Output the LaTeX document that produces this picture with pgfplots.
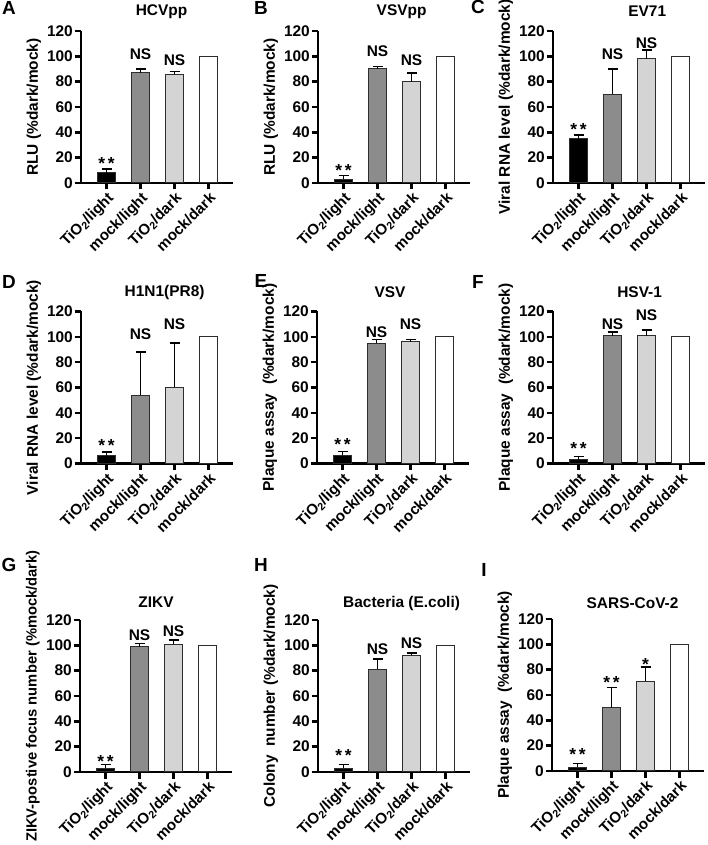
\documentclass[border=0pt]{standalone}
\usepackage{fontspec}
\setmainfont{Liberation Sans}
\usepackage{pgfplots}
\pgfplotsset{compat=1.18}

\definecolor{midgray}{RGB}{140,140,140}
\definecolor{lightgray2}{RGB}{212,212,212}
\definecolor{edge}{RGB}{45,45,45}

\newcommand\fs[1]{\bfseries\fontsize{#1}{#1}\selectfont}

\tikzset{
  sig/.style={font=\fs{15.5}, inner sep=0pt},
  star/.style={font=\fs{17.5}, inner sep=0pt},
  letter/.style={font=\fs{19}, inner sep=0pt},
}

\pgfplotsset{
  panel/.style={
    width=152bp, height=152bp, scale only axis,
    anchor=south west,
    xmin=-0.75, xmax=3.72, ymin=0, ymax=120,
    axis lines=left,
    axis line style={-, line width=2.8bp},
    ytick={0,20,...,120}, xtick={0,1,2,3},
    xticklabels={TiO\textsubscript{2}/light, mock/light, TiO\textsubscript{2}/dark, mock/dark},
    tick align=outside, major tick length=6.5bp,
    tick style={line width=2.6bp, black},
    /pgf/number format/assume math mode=true,
    y tick label style={font=\fs{15.5}, inner sep=1.5bp},
    x tick label style={font=\fs{15.2}, rotate=45, anchor=north east, inner sep=1bp},
    ylabel style={at={(axis description cs:-0.31,0.5)}, anchor=center, font=\fs{15.5}},
    title style={font=\fs{15.5}, anchor=center},
    ybar, bar width=18bp, bar shift=0pt,
    every axis plot/.append style={draw=edge, line width=1bp},
    error bars/y dir=plus, error bars/y explicit,
    error bars/error bar style={line width=1.6bp, black},
    error bars/error mark options={rotate=90, mark size=5bp, line width=1.6bp, black},
    clip=false,
  },
  b1/.style={fill=black},
  b2/.style={fill=midgray},
  b3/.style={fill=lightgray2},
  b4/.style={fill=white},
}

\begin{document}
\begin{tikzpicture}
\path[use as bounding box] (0,0) rectangle (708bp,845bp);

% ---- row 1 ----
\begin{axis}[panel, at={(81bp,662bp)}, ylabel={RLU (\%dark/mock)},
  title={HCVpp}, title style={at={(axis description cs:0.53,1.09)}}]
  \addplot[b1] coordinates {(0,8) +- (0,3)};
  \addplot[b2] coordinates {(1,87) +- (0,3)};
  \addplot[b3] coordinates {(2,86) +- (0,2)};
  \addplot[b4] coordinates {(3,100)};
  \node[star] at (axis cs:0,15.5) {*\,*};
  \node[sig] at (axis cs:1,102) {NS};
  \node[sig] at (axis cs:2,97) {NS};
\end{axis}

\begin{axis}[panel, at={(318bp,662bp)}, ylabel={RLU (\%dark/mock)},
  title={VSVpp}, title style={at={(axis description cs:0.55,1.09)}}]
  \addplot[b1] coordinates {(0,3) +- (0,3)};
  \addplot[b2] coordinates {(1,90) +- (0,2)};
  \addplot[b3] coordinates {(2,80) +- (0,7)};
  \addplot[b4] coordinates {(3,100)};
  \node[star] at (axis cs:0,9.5) {*\,*};
  \node[sig] at (axis cs:1,104) {NS};
  \node[sig] at (axis cs:2,97) {NS};
\end{axis}

\begin{axis}[panel, at={(553bp,662bp)}, ylabel={Viral RNA level (\%dark/mock)},
  title={EV71}, title style={at={(axis description cs:0.62,1.09)}}]
  \addplot[b1] coordinates {(0,35) +- (0,3)};
  \addplot[b2] coordinates {(1,70) +- (0,20)};
  \addplot[b3] coordinates {(2,98) +- (0,7)};
  \addplot[b4] coordinates {(3,100)};
  \node[star] at (axis cs:0,42) {*\,*};
  \node[sig] at (axis cs:1,102) {NS};
  \node[sig] at (axis cs:2,110) {NS};
\end{axis}

% ---- row 2 ----
\begin{axis}[panel, at={(81bp,381.5bp)}, ylabel={Viral RNA level (\%dark/mock)},
  title={H1N1(PR8)}, title style={at={(axis description cs:0.55,1.085)}}]
  \addplot[b1] coordinates {(0,6) +- (0,3)};
  \addplot[b2] coordinates {(1,54) +- (0,34)};
  \addplot[b3] coordinates {(2,60) +- (0,35)};
  \addplot[b4] coordinates {(3,100)};
  \node[star] at (axis cs:0,14.5) {*\,*};
  \node[sig] at (axis cs:1,102) {NS};
  \node[sig] at (axis cs:2,110) {NS};
\end{axis}

\begin{axis}[panel, at={(317bp,381.5bp)}, ylabel={Plaque assay~~(\%dark/mock)},
  title={VSV}, title style={at={(axis description cs:0.48,1.085)}}]
  \addplot[b1] coordinates {(0,6.5) +- (0,3)};
  \addplot[b2] coordinates {(1,95) +- (0,3)};
  \addplot[b3] coordinates {(2,96) +- (0,2)};
  \addplot[b4] coordinates {(3,100)};
  \node[star] at (axis cs:0,15) {*\,*};
  \node[sig] at (axis cs:1,104) {NS};
  \node[sig] at (axis cs:2,110) {NS};
\end{axis}

\begin{axis}[panel, at={(553bp,381.5bp)}, ylabel={Plaque assay~~(\%dark/mock)},
  title={HSV-1}, title style={at={(axis description cs:0.57,1.085)}}]
  \addplot[b1] coordinates {(0,3) +- (0,2.5)};
  \addplot[b2] coordinates {(1,101) +- (0,3)};
  \addplot[b3] coordinates {(2,101) +- (0,4.5)};
  \addplot[b4] coordinates {(3,100)};
  \node[star] at (axis cs:0,12) {*\,*};
  \node[sig] at (axis cs:1,110) {NS};
  \node[sig] at (axis cs:2,117) {NS};
\end{axis}

% ---- row 3 ----
\begin{axis}[panel, at={(80bp,73bp)}, ylabel={ZIKV-postive focus number (\%mock/dark)},
  ylabel style={font=\fs{14.8}},
  title={ZIKV}, title style={at={(axis description cs:0.5,1.08)}}]
  \addplot[b1] coordinates {(0,3) +- (0,3)};
  \addplot[b2] coordinates {(1,99) +- (0,2.5)};
  \addplot[b3] coordinates {(2,101) +- (0,3)};
  \addplot[b4] coordinates {(3,100)};
  \node[star] at (axis cs:0,8.5) {*\,*};
  \node[sig] at (axis cs:1,108) {NS};
  \node[sig] at (axis cs:2,111) {NS};
\end{axis}

\begin{axis}[panel, at={(318bp,73bp)}, ylabel={Colony~~number (\%dark/mock)},
  title={Bacteria (E.coli)}, title style={at={(axis description cs:0.55,1.066)}}]
  \addplot[b1] coordinates {(0,3) +- (0,3)};
  \addplot[b2] coordinates {(1,81) +- (0,8)};
  \addplot[b3] coordinates {(2,92) +- (0,2)};
  \addplot[b4] coordinates {(3,100)};
  \node[star] at (axis cs:0,13) {*\,*};
  \node[sig] at (axis cs:1,97) {NS};
  \node[sig] at (axis cs:2,102) {NS};
\end{axis}

\begin{axis}[panel, at={(552bp,74bp)}, ylabel={Plaque assay~~(\%dark/mock)},
  title={SARS-CoV-2}, title style={at={(axis description cs:0.53,1.066)}}]
  \addplot[b1] coordinates {(0,3) +- (0,3)};
  \addplot[b2] coordinates {(1,50) +- (0,16)};
  \addplot[b3] coordinates {(2,71) +- (0,11)};
  \addplot[b4] coordinates {(3,100)};
  \node[star] at (axis cs:0,13) {*\,*};
  \node[star] at (axis cs:1,70) {*\,*};
  \node[star] at (axis cs:2,84) {*};
\end{axis}

% panel letters
\node[letter] at (9bp,837bp) {A};
\node[letter] at (261bp,837bp) {B};
\node[letter] at (478bp,838bp) {C};
\node[letter] at (9bp,563bp) {D};
\node[letter] at (261bp,564bp) {E};
\node[letter] at (478bp,563bp) {F};
\node[letter] at (9bp,280bp) {G};
\node[letter] at (261bp,280bp) {H};
\node[letter] at (484bp,275bp) {I};
\end{tikzpicture}
\end{document}
